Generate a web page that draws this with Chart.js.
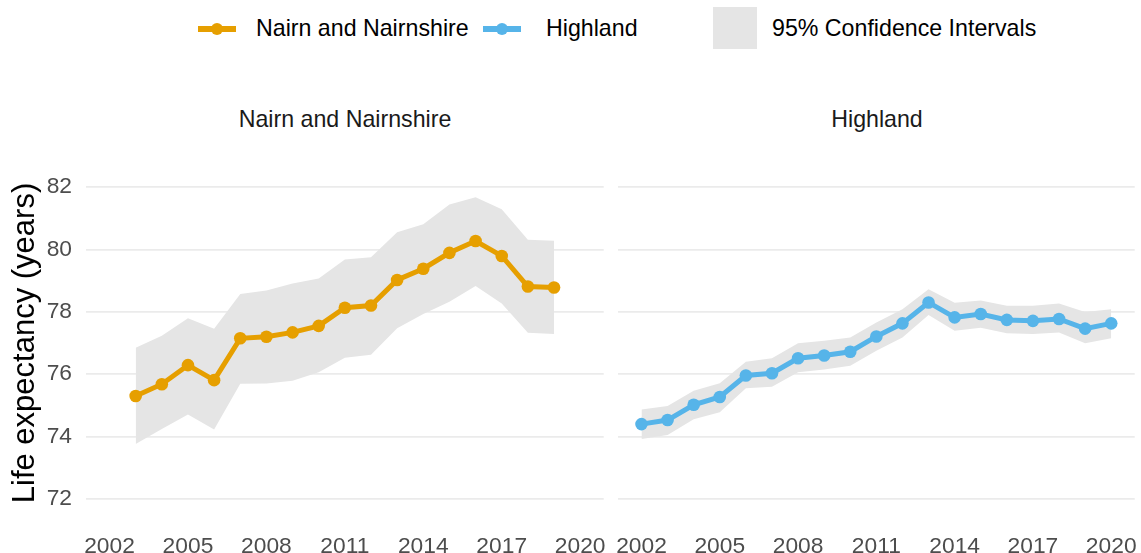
<!DOCTYPE html>
<html><head><meta charset="utf-8">
<script src="https://cdn.jsdelivr.net/npm/chart.js@4.4.0/dist/chart.umd.min.js"></script>
<style>
html,body{margin:0;padding:0;background:#fff;width:1141px;height:553px;overflow:hidden;font-family:"Liberation Sans",Arial,sans-serif;}
#wrap{position:relative;width:1141px;height:553px;}
.txt{position:absolute;font-size:23.2px;line-height:23px;color:#000;white-space:nowrap;}
.strip{position:absolute;font-size:23.2px;line-height:23px;color:#1a1a1a;white-space:nowrap;text-align:center;width:300px;}
.lline{position:absolute;height:6px;top:26px;width:38px;}
.ldot{position:absolute;width:12px;height:12px;border-radius:50%;top:23px;}
.lbox{position:absolute;left:713px;top:7px;width:44px;height:42px;background:#E5E5E5;}
#c1{position:absolute;left:0;top:140px;}
#c2{position:absolute;left:605px;top:140px;}
</style>
</head><body>
<div id="wrap">
  <div class="lline" style="left:198px;background:#E69F00"></div>
  <div class="ldot" style="left:211px;background:#E69F00"></div>
  <div class="txt" style="left:256px;top:17px">Nairn and Nairnshire</div>
  <div class="lline" style="left:483px;background:#56B4E9"></div>
  <div class="ldot" style="left:496px;background:#56B4E9"></div>
  <div class="txt" style="left:546px;top:17px">Highland</div>
  <div class="lbox"></div>
  <div class="txt" style="left:772px;top:17px">95% Confidence Intervals</div>
  <div class="strip" style="left:195px;top:108px">Nairn and Nairnshire</div>
  <div class="strip" style="left:727px;top:108px">Highland</div>
  <canvas id="c1" width="610" height="413"></canvas>
  <canvas id="c2" width="536" height="413"></canvas>
</div>
<script>
// ---- data ----
const nairnYears = [2003,2004,2005,2006,2007,2008,2009,2010,2011,2012,2013,2014,2015,2016,2017,2018,2019];
const nairnLE    = [75.30,75.68,76.29,75.81,77.15,77.20,77.34,77.55,78.13,78.20,79.02,79.38,79.89,80.27,79.79,78.81,78.78];
const nairnUpper = [76.85,77.23,77.79,77.46,78.57,78.68,78.91,79.07,79.68,79.75,80.55,80.81,81.44,81.67,81.29,80.31,80.28];
const nairnLower = [73.76,74.24,74.71,74.23,75.69,75.70,75.79,76.06,76.53,76.62,77.47,77.93,78.32,78.83,78.27,77.33,77.29];

const highlandYears = [2002,2003,2004,2005,2006,2007,2008,2009,2010,2011,2012,2013,2014,2015,2016,2017,2018,2019,2020];
const highlandLE    = [74.40,74.53,75.02,75.27,75.96,76.03,76.51,76.60,76.72,77.21,77.63,78.30,77.82,77.93,77.74,77.71,77.77,77.46,77.63];
const highlandUpper = [74.87,74.98,75.47,75.71,76.40,76.51,76.99,77.07,77.18,77.66,78.08,78.72,78.29,78.36,78.19,78.19,78.27,77.99,78.08];
const highlandLower = [73.92,74.05,74.56,74.78,75.55,75.60,76.06,76.15,76.27,76.75,77.18,77.90,77.39,77.49,77.31,77.29,77.34,76.99,77.15];

const xTickYears  = [2002,2005,2008,2011,2014,2017,2020];
const yTickValues = [72,74,76,78,80,82];
const yAxisTitle  = 'Life expectancy (years)';

// ---- chart setup ----
Chart.defaults.font.family = '"Liberation Sans", Arial, sans-serif';
Chart.defaults.animation = false;

function pts(xs, ys){ return xs.map((x,i)=>({x:x, y:ys[i]})); }

function makeChart(id, years, le, lo, up, color, showY, padding){
  return new Chart(document.getElementById(id), {
    type: 'line',
    data: { datasets: [
      { data: pts(years, le), borderColor: color, backgroundColor: color, borderWidth: 5,
        pointRadius: 6.3, pointBackgroundColor: color, pointBorderWidth: 0, fill: false, tension: 0 },
      { data: pts(years, up), borderWidth: 0, pointRadius: 0, backgroundColor: '#E5E5E5', fill: '+1', tension: 0 },
      { data: pts(years, lo), borderWidth: 0, pointRadius: 0, fill: false, tension: 0 }
    ]},
    options: {
      responsive: false, events: [],
      layout: { padding: padding },
      plugins: { legend: { display: false }, tooltip: { enabled: false } },
      scales: {
        x: { type: 'linear', min: 2001.1, max: 2020.9,
             grid: { display: false }, border: { display: false },
             afterBuildTicks: s => { s.ticks = xTickYears.map(v => ({value: v})); },
             afterFit: s => { s.height = 38.4; s.paddingLeft = 0; s.paddingRight = 0; },
             ticks: { color: '#4D4D4D', font: { size: 22.8 }, padding: 10, maxRotation: 0, autoSkip: false,
                      callback: v => String(v) } },
        y: { type: 'linear', min: 71.5, max: 82.5,
             grid: { color: '#EBEBEB', lineWidth: 1.8, drawTicks: false }, border: { display: false },
             afterBuildTicks: s => { s.ticks = yTickValues.map(v => ({value: v})); },
             afterFit: s => { s.width = showY ? 86 : 0; s.paddingTop = 0; s.paddingBottom = 0; },
             ticks: { display: showY, color: '#4D4D4D', font: { size: 22.8 }, padding: 14, callback: v => String(v) },
             title: { display: showY, text: yAxisTitle, color: '#000', font: { size: 31 }, padding: { top: 7, bottom: 0 } } }
      }
    }
  });
}

makeChart('c1', nairnYears, nairnLE, nairnLower, nairnUpper, '#E69F00', true, {top: 31.4, right: 6, bottom: 0, left: 0});
makeChart('c2', highlandYears, highlandLE, highlandLower, highlandUpper, '#56B4E9', false, {top: 31.4, right: 5, bottom: 0, left: 13});
</script>
</body></html>
